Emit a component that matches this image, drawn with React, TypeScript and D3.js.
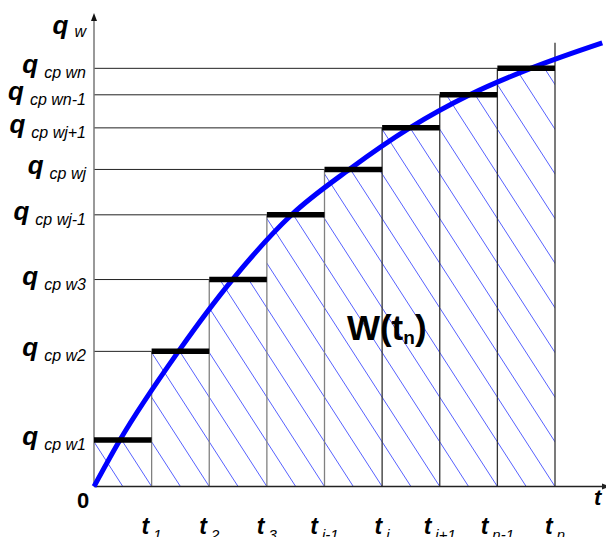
import React from "react";
import * as d3 from "d3";

// step intervals t_1..t_n and the averaged heat flux level on each of them
const tIndex = [1, 2, 3, 4, 5, 6, 7, 8];
const tLabels = ["1", "2", "3", "i-1", "i", "i+1", "n-1", "n"];
const qLabels = ["w1", "w2", "w3", "wj-1", "wj", "wj+1", "wn-1", "wn"];
const qLevels = [9.84, 28.6, 43.8, 57.5, 67.1, 75.9, 82.9, 88.5];

// the continuous q_w(t) curve
const curveT = [0, 0.45, 1.46, 2.41, 3.42, 4.44, 5.48, 6.52, 7.6, 8.82];
const curveQ = [0, 9.84, 28.5, 43.9, 57.4, 67.2, 75.9, 82.9, 88.6, 93.9];

const W = 606;
const H = 537;
const font = "Arial, 'Liberation Sans', sans-serif";

const App = () => {
  const x = d3.scaleLinear().domain([0, 8]).range([94, 555]);
  const y = d3.scaleLinear().domain([0, 100]).range([486.5, 14]);

  const line = d3
    .line<number>()
    .x((_, i) => x(curveT[i]))
    .y((d) => y(d))
    .curve(d3.curveMonotoneX);

  const y0 = y(0);
  const slope = 1.55;
  const hatch = d3.range(0.5, 13.01, 0.5).map((t) => {
    const bx = x(t);
    const rise = 500;
    return { x1: bx, y1: y0, x2: bx - rise / slope, y2: y0 - rise };
  });

  const qTop = curveQ[curveQ.length - 1];

  return (
    <svg
      width={W}
      height={H}
      style={{ position: "absolute", left: 0, top: 0, background: "#fff" }}
    >
      <defs>
        <clipPath id="stepClip">
          {tIndex.map((t, i) => (
            <rect
              key={i}
              x={x(t - 1)}
              y={y(qLevels[i])}
              width={x(t) - x(t - 1)}
              height={y0 - y(qLevels[i])}
            />
          ))}
        </clipPath>
      </defs>

      {/* hatching */}
      <g clipPath="url(#stepClip)" stroke="#3a46ff" strokeWidth={1} opacity={0.85}>
        {hatch.map((h, i) => (
          <line key={i} {...h} />
        ))}
      </g>

      {/* thin horizontal guides from the axis to the start of each step */}
      <g stroke="#222" strokeWidth={1}>
        {tIndex.slice(1).map((t, i) => (
          <line key={i} x1={x(0)} x2={x(t - 1)} y1={y(qLevels[i + 1])} y2={y(qLevels[i + 1])} />
        ))}
      </g>

      {/* vertical step edges */}
      <g strokeWidth={1.3}>
        {tIndex.map((t, i) => (
          <line
            key={i}
            x1={x(t)}
            x2={x(t)}
            y1={y0}
            y2={y(i < tIndex.length - 1 ? qLevels[i + 1] : qTop)}
            stroke={i < 4 ? "#808080" : "#333"}
          />
        ))}
      </g>

      {/* axes */}
      <line x1={x(0)} x2={W + 4} y1={y0} y2={y0} stroke="#222" strokeWidth={1.5} />
      <path d={`M${W + 4},${y0} l-8,-3 v6 z`} fill="#222" />
      <line x1={x(0)} x2={x(0)} y1={y0} y2={y(100) + 6} stroke="#777" strokeWidth={1.5} />
      <path d={`M${x(0)},${y(100) - 1} l-3,8 h6 z`} fill="#111" />

      {/* curve */}
      <path d={line(curveQ) || ""} fill="none" stroke="#0000ff" strokeWidth={5} />

      {/* step levels */}
      <g stroke="#000" strokeWidth={5.5}>
        {tIndex.map((t, i) => (
          <line key={i} x1={x(t - 1)} x2={x(t)} y1={y(qLevels[i])} y2={y(qLevels[i])} />
        ))}
      </g>

      {/* y labels */}
      <g fontFamily={font} fill="#000" textAnchor="end">
        {qLabels.map((lab, i) => (
          <text key={i} x={86} y={y(qLevels[i]) + 5}>
            <tspan fontSize={26} fontWeight="bold" fontStyle="italic">q</tspan>
            <tspan fontSize={16} fontStyle="italic" dx={6} dy={5}>{`cp ${lab}`}</tspan>
          </text>
        ))}
        <text x={86} y={y(100) + 20}>
          <tspan fontSize={26} fontWeight="bold" fontStyle="italic">q</tspan>
          <tspan fontSize={16} fontStyle="italic" dx={6} dy={3}>w</tspan>
        </text>
      </g>

      {/* x labels */}
      <g fontFamily={font} fill="#000" textAnchor="middle">
        {tIndex.map((t, i) => (
          <text key={i} x={x(t)} y={534}>
            <tspan fontSize={23} fontWeight="bold" fontStyle="italic">t</tspan>
            <tspan fontSize={15} fontStyle="italic" dx={4} dy={6}>{tLabels[i]}</tspan>
          </text>
        ))}
      </g>

      <text x={83} y={508} fontFamily={font} fontSize={22} fontWeight="bold" textAnchor="middle">
        0
      </text>
      <text x={594} y={505} fontFamily={font} fontSize={22} fontWeight="bold" fontStyle="italic">
        t
      </text>

      {/* area label */}
      <text x={x(5.08)} y={y(31)} fontFamily={font} fontWeight="bold" textAnchor="middle">
        <tspan fontSize={35}>W(t</tspan>
        <tspan fontSize={19} dy={4}>n</tspan>
        <tspan fontSize={35} dy={-4}>)</tspan>
      </text>
    </svg>
  );
};

export default App;
